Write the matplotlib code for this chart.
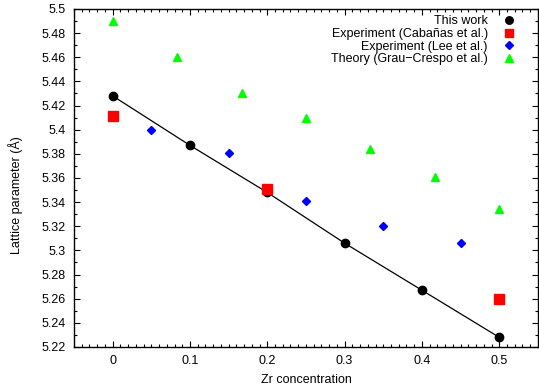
import matplotlib
matplotlib.use("Agg")
import matplotlib.pyplot as plt
from matplotlib.ticker import MultipleLocator, FuncFormatter

plt.rcParams['font.family'] = ['Liberation Sans', 'DejaVu Sans']

# Data
x_this = [0.0, 0.1, 0.2, 0.3, 0.4, 0.5]
y_this = [5.428, 5.387, 5.348, 5.306, 5.267, 5.228]

x_cab = [0.0, 0.2, 0.5]
y_cab = [5.411, 5.351, 5.260]

x_lee = [0.05, 0.15, 0.25, 0.35, 0.45]
y_lee = [5.400, 5.381, 5.341, 5.320, 5.306]

x_grau = [0.0, 1/12, 1/6, 0.25, 1/3, 5/12, 0.5]
y_grau = [5.490, 5.460, 5.430, 5.410, 5.384, 5.361, 5.334]

labels = ["This work", "Experiment (Cabañas et al.)",
          "Experiment (Lee et al.)", "Theory (Grau\u2212Crespo et al.)"]

fig = plt.figure(figsize=(5.39, 3.90), dpi=100)
ax = fig.add_axes([0.1373, 0.1103, 0.8607, 0.8667])

ax.plot(x_this, y_this, '-', color='black', lw=0.9, zorder=2)
h1, = ax.plot(x_this, y_this, 'o', color='black', ms=6, zorder=3, label=labels[0])
h2, = ax.plot(x_cab, y_cab, 's', color='#ff0000', ms=6.5, zorder=4, label=labels[1])
h3, = ax.plot(x_lee, y_lee, 'D', color='#0000ff', ms=4.5, zorder=4, label=labels[2])
h4, = ax.plot(x_grau, y_grau, '^', color='#00ff00', ms=6, zorder=4, label=labels[3])

ax.set_xlim(-0.05, 0.55)
ax.set_ylim(5.22, 5.5)
ax.xaxis.set_major_locator(MultipleLocator(0.1))
ax.xaxis.set_minor_locator(MultipleLocator(0.01))
ax.yaxis.set_major_locator(MultipleLocator(0.02))
ax.yaxis.set_minor_locator(MultipleLocator(0.01))

def fmt(v, pos):
    s = f"{v:.2f}".rstrip('0').rstrip('.')
    if s == "-0":
        s = "0"
    return s
ax.xaxis.set_major_formatter(FuncFormatter(fmt))
ax.yaxis.set_major_formatter(FuncFormatter(fmt))

ax.tick_params(which='both', direction='in', top=True, right=True, labelsize=9, width=0.8)
ax.tick_params(which='major', length=4, pad=6)
ax.tick_params(which='minor', length=2)
for s in ax.spines.values():
    s.set_linewidth(1.0)

ax.set_xlabel("Zr concentration", fontsize=9, labelpad=5)
ax.set_ylabel("Lattice parameter (Å)", fontsize=9)
ax.yaxis.set_label_coords(-0.11, 0.45)

leg = ax.legend(handles=[h1, h2, h3, h4], loc='upper right', markerfirst=False,
                frameon=False, fontsize=9, labelspacing=0.05, handlelength=1.0,
                handletextpad=1.2, borderaxespad=0.3, bbox_to_anchor=(0.97, 1.007),
                markerscale=0.9)

fig.savefig("out.png", dpi=100)
